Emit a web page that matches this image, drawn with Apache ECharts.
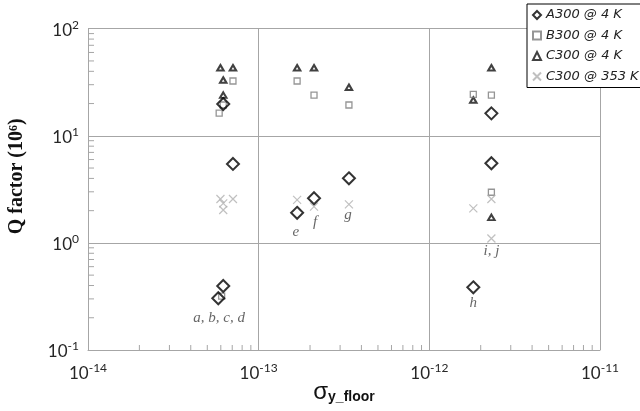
<!DOCTYPE html>
<html>
<head>
<meta charset="utf-8">
<script src="https://cdn.jsdelivr.net/npm/echarts@6/dist/echarts.min.js"></script>
<style>
  html, body { margin: 0; padding: 0; background: #ffffff; }
  #chart { width: 640px; height: 411px; }
</style>
</head>
<body>
<div id="chart"></div>
<script>
  // series data: [sigma_y_floor, Q factor (1e6)]
  const a300At4K = [
    [6.2e-14, 19.8], [7.07e-14, 5.46], [6.2e-14, 0.396], [5.8e-14, 0.304],
    [1.68e-13, 1.91], [2.11e-13, 2.61], [3.38e-13, 4.01],
    [1.81e-12, 0.385], [2.31e-12, 16.2], [2.31e-12, 5.54]
  ];
  const b300At4K = [
    [7.07e-14, 32.5], [6.2e-14, 19.4], [5.87e-14, 16.3], [6.07e-14, 0.319],
    [1.68e-13, 32.5], [2.11e-13, 24.0], [3.38e-13, 19.4],
    [1.81e-12, 24.4], [2.31e-12, 24.0], [2.31e-12, 2.97]
  ];
  const c300At4K = [
    [5.97e-14, 43.2], [7.07e-14, 43.2], [6.2e-14, 33.2], [6.2e-14, 24.0],
    [1.68e-13, 43.2], [2.11e-13, 43.2], [3.38e-13, 28.4],
    [1.81e-12, 21.6], [2.31e-12, 43.2], [2.31e-12, 1.73]
  ];
  const c300At353K = [
    [5.97e-14, 2.57], [7.07e-14, 2.57], [6.2e-14, 2.34], [6.2e-14, 2.03],
    [1.68e-13, 2.52], [2.11e-13, 2.18], [3.38e-13, 2.29],
    [1.81e-12, 2.10], [2.31e-12, 2.57], [2.31e-12, 1.10]
  ];
  // sample labels [x, y, text]
  const sampleLabels = [
    [5.87e-14, 0.199, 'a, b, c, d'],
    [1.65e-13, 1.26, 'e'],
    [2.14e-13, 1.57, 'f'],
    [3.34e-13, 1.82, 'g'],
    [1.81e-12, 0.274, 'h'],
    [2.31e-12, 0.84, 'i, j']
  ];
  const seriesNames = ['A300 @ 4 K', 'B300 @ 4 K', 'C300 @ 4 K', 'C300 @ 353 K'];
  const xRange = [1e-14, 1e-11];
  const yRange = [0.1, 100];

  // minor tick positions (2..9 per decade)
  const xMinor = [];
  const yMinor = [];
  for (let k = -14; k < -11; k++) {
    for (let m = 2; m <= 9; m++) xMinor.push([m * Math.pow(10, k), yRange[0]]);
  }
  for (let k = -1; k < 2; k++) {
    for (let m = 2; m <= 9; m++) yMinor.push([xRange[0], m * Math.pow(10, k)]);
  }

  const gray = '#a6a6a6';
  const crossPath = 'path://M0,0L10,10M10,0L0,10';

  function expLabel(v) {
    const e = Math.round(Math.log10(v));
    return '{b|10}{s|' + e + '}';
  }
  const tickRich = {
    b: { fontSize: 17, fontFamily: 'Lato', color: '#262626', lineHeight: 20, verticalAlign: 'bottom' },
    s: { fontSize: 12, fontFamily: 'Lato', color: '#262626', lineHeight: 12, verticalAlign: 'top', padding: [0, 0, 12, 0] }
  };

  function tickSeries(data, horizontal) {
    return {
      type: 'custom',
      silent: true,
      clip: false,
      data: data,
      renderItem: function (params, api) {
        const p = api.coord([api.value(0), api.value(1)]);
        const end = horizontal ? [p[0] + 6, p[1]] : [p[0], p[1] - 5];
        return {
          type: 'line',
          shape: { x1: p[0], y1: p[1], x2: end[0], y2: end[1] },
          style: { stroke: gray, lineWidth: 1 }
        };
      }
    };
  }

  const chart = echarts.init(document.getElementById('chart'));
  chart.setOption({
    animation: false,
    backgroundColor: '#ffffff',
    grid: { left: 88, right: 40, top: 28.7, bottom: 61, containLabel: false, outerBoundsMode: 'none' },
    legend: {
      data: seriesNames,
      orient: 'vertical',
      left: 527,
      top: 4,
      padding: [4, 6, 4, 5],
      itemWidth: 8,
      itemHeight: 8,
      itemGap: 6.5,
      borderColor: '#000',
      borderWidth: 1,
      backgroundColor: '#fff',
      textStyle: { fontSize: 13, fontStyle: 'italic', fontFamily: 'DejaVu Sans', color: '#222', lineHeight: 14 }
    },
    xAxis: {
      type: 'log',
      logBase: 10,
      min: xRange[0],
      max: xRange[1],
      interval: 1,
      name: '{s|σ}{sub|y_floor}',
      nameLocation: 'middle',
      nameGap: 30,
      nameMoveOverlap: false,
      nameTextStyle: {
        rich: {
          s: { fontSize: 24, fontFamily: 'Liberation Sans', color: '#111', lineHeight: 24, verticalAlign: 'top' },
          sub: { fontSize: 14, fontWeight: 'bold', fontFamily: 'Liberation Sans', color: '#111', lineHeight: 24, verticalAlign: 'bottom', padding: [6, 0, 0, 0] }
        }
      },
      axisLine: { lineStyle: { color: gray } },
      axisTick: { show: false },
      axisLabel: { formatter: expLabel, rich: tickRich, margin: 12 },
      splitLine: { show: true, lineStyle: { color: gray, width: 1 } }
    },
    yAxis: {
      type: 'log',
      logBase: 10,
      min: yRange[0],
      max: yRange[1],
      interval: 1,
      name: 'Q factor (10⁶)',
      nameLocation: 'middle',
      nameRotate: 90,
      nameGap: 61,
      nameMoveOverlap: false,
      nameTextStyle: {
        fontSize: 20,
        fontWeight: 'bold',
        fontFamily: 'Liberation Serif',
        color: '#111',
        padding: [0, 0, 0, 26]
      },
      axisLine: { show: true, lineStyle: { color: gray } },
      axisTick: { show: false },
      axisLabel: { formatter: expLabel, rich: tickRich, margin: 9 },
      splitLine: { show: true, lineStyle: { color: gray, width: 1 } }
    },
    series: [
      tickSeries(xMinor, false),
      tickSeries(yMinor, true),
      {
        name: seriesNames[2],
        type: 'scatter',
        data: c300At4K,
        symbol: 'triangle',
        symbolSize: [6.5, 5.5],
        itemStyle: { color: 'rgba(255,255,255,0)', borderColor: '#111', borderWidth: 2 }
      },
      {
        name: seriesNames[1],
        type: 'scatter',
        data: b300At4K,
        symbol: 'rect',
        symbolSize: 6,
        itemStyle: { color: 'rgba(255,255,255,0)', borderColor: '#7a7a7a', borderWidth: 1.3 }
      },
      {
        name: seriesNames[3],
        type: 'scatter',
        data: c300At353K,
        symbol: crossPath,
        symbolSize: 8,
        itemStyle: { color: 'rgba(255,255,255,0)', borderColor: '#b0b0b0', borderWidth: 1.2 }
      },
      {
        name: seriesNames[0],
        type: 'scatter',
        data: a300At4K,
        symbol: 'diamond',
        symbolSize: 12,
        itemStyle: { color: 'rgba(255,255,255,0)', borderColor: '#000', borderWidth: 2 }
      },
      {
        type: 'scatter',
        data: sampleLabels,
        symbolSize: 0,
        silent: true,
        label: {
          show: true,
          position: 'inside',
          formatter: function (p) { return p.data[2]; },
          fontFamily: 'Liberation Serif',
          fontStyle: 'italic',
          fontSize: 15,
          color: '#404040'
        }
      }
    ]
  });
</script>
</body>
</html>
